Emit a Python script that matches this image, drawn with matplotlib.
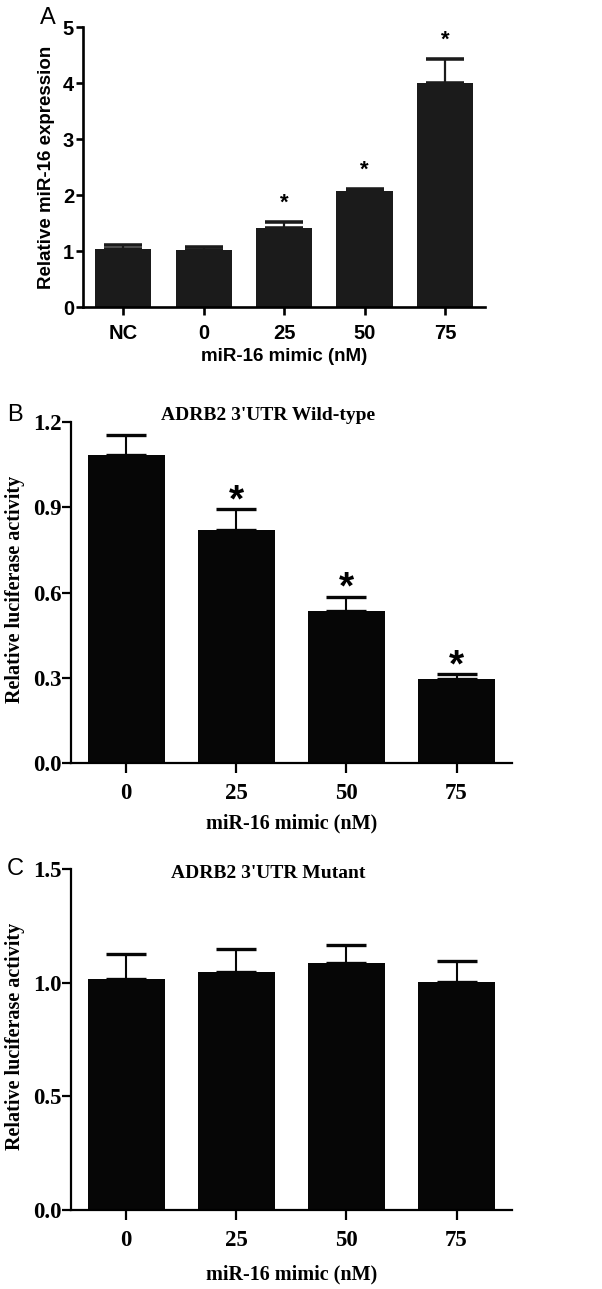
import matplotlib
matplotlib.use('Agg')
import matplotlib.pyplot as plt
import numpy as np

# panel A: relative miR-16 expression
a_labels = ['NC', '0', '25', '50', '75']
a_mean = [1.04, 1.02, 1.41, 2.08, 4.00]
a_err = [0.06, 0.06, 0.10, 0.02, 0.43]
a_sig = [False, False, True, True, True]

# panel B: ADRB2 3'UTR wild-type luciferase
b_labels = ['0', '25', '50', '75']
b_mean = [1.083, 0.820, 0.536, 0.296]
b_err = [0.070, 0.073, 0.049, 0.017]
b_sig = [False, True, True, True]

# panel C: ADRB2 3'UTR mutant luciferase
c_labels = ['0', '25', '50', '75']
c_mean = [1.015, 1.047, 1.085, 1.004]
c_err = [0.110, 0.100, 0.080, 0.092]

sans = 'Liberation Sans'
serif = 'Liberation Serif'

fig = plt.figure(figsize=(6.02, 12.89), dpi=100)

def style_axes(ax, lw, ylen, xlen):
    ax.spines['top'].set_visible(False)
    ax.spines['right'].set_visible(False)
    for s in ('left', 'bottom'):
        ax.spines[s].set_linewidth(lw)
    ax.tick_params(axis='y', length=ylen, width=lw, pad=1.5)
    ax.tick_params(axis='x', length=xlen, width=lw, pad=6.5)

def bars(ax, mean, err, color, capsize, lw):
    x = np.arange(len(mean))
    ax.bar(x, mean, width=0.7, color=color, zorder=2)
    ax.errorbar(x, mean, yerr=[np.zeros(len(err)), err], fmt='none',
                ecolor=color, elinewidth=lw, capsize=capsize, capthick=lw * 1.6, zorder=1)
    return x

# ---- A ----
axA = fig.add_axes([0.138, 0.7618, 0.668, 0.2172])
x = bars(axA, a_mean, a_err, '#1b1b1b', 13.5, 1.6)
axA.set_xlim(-0.5, 4.5)
axA.set_ylim(0, 5)
axA.set_yticks([0, 1, 2, 3, 4, 5])
axA.set_xticks(x)
axA.set_xticklabels(a_labels)
style_axes(axA, 1.9, 5, 6)
for lab in axA.get_xticklabels() + axA.get_yticklabels():
    lab.set_fontfamily(sans)
    lab.set_fontweight('bold')
    lab.set_fontsize(14.5)
axA.set_ylabel('Relative miR-16 expression', fontfamily=sans, fontweight='bold', fontsize=13.5)
axA.yaxis.set_label_coords(-0.07, 0.5)
axA.set_xlabel('miR-16 mimic (nM)', fontfamily=sans, fontweight='bold', fontsize=13.5)
axA.xaxis.set_label_coords(0.5, -0.146)
for i in range(len(a_mean)):
    if a_sig[i]:
        axA.text(i, a_mean[i] + a_err[i] + 0.15, '*', ha='center', va='bottom',
                 fontfamily=sans, fontweight='bold', fontsize=16)
fig.text(0.080, 0.986, 'A', fontfamily=sans, fontsize=17, ha='center', va='center')

# ---- B and C ----
def lucif(rect, mean, err, sig, ylim, yticks, title, title_y, xlab_y, letter, letter_y):
    ax = fig.add_axes(rect)
    x = bars(ax, mean, err, '#060606', 14.5, 1.5)
    ax.set_xlim(-0.5, 3.5)
    ax.set_ylim(*ylim)
    ax.set_yticks(yticks)
    ax.set_yticklabels(['%.1f' % v for v in yticks])
    ax.set_xticks(x)
    ax.set_xticklabels(b_labels)
    style_axes(ax, 1.6, 6.5, 7)
    ax.tick_params(axis='y', pad=0.5)
    ax.tick_params(axis='x', pad=7.5)
    for lab in ax.get_xticklabels() + ax.get_yticklabels():
        lab.set_fontfamily(serif)
        lab.set_fontweight('bold')
        lab.set_fontsize(16.5)
    ax.set_ylabel('Relative luciferase activity', fontfamily=serif, fontweight='bold', fontsize=14.5)
    ax.yaxis.set_label_coords(-0.104, 0.51)
    ax.set_xlabel('miR-16 mimic (nM)', fontfamily=serif, fontweight='bold', fontsize=14.5)
    ax.xaxis.set_label_coords(0.5, xlab_y)
    ax.text(0.447, title_y, title, transform=ax.transAxes, ha='center', va='center',
            fontfamily=serif, fontweight='bold', fontsize=14)
    if sig is not None:
        for i in range(len(mean)):
            if sig[i]:
                ax.text(i, mean[i] + err[i] - 0.035, '*', ha='center', va='bottom',
                        fontfamily=sans, fontweight='bold', fontsize=28)
    fig.text(0.025, letter_y, letter, fontfamily=sans, fontsize=17, ha='center', va='center')
    return ax

lucif([0.118, 0.408, 0.732, 0.2646], b_mean, b_err, b_sig, (0, 1.2),
      [0.0, 0.3, 0.6, 0.9, 1.2], "ADRB2 3'UTR Wild-type", 1.02, -0.147, 'B', 0.678)
lucif([0.118, 0.0613, 0.732, 0.2645], c_mean, c_err, None, (0, 1.5),
      [0.0, 0.5, 1.0, 1.5], "ADRB2 3'UTR Mutant", 0.988, -0.161, 'C', 0.326)

fig.savefig('out.png', dpi=100)
